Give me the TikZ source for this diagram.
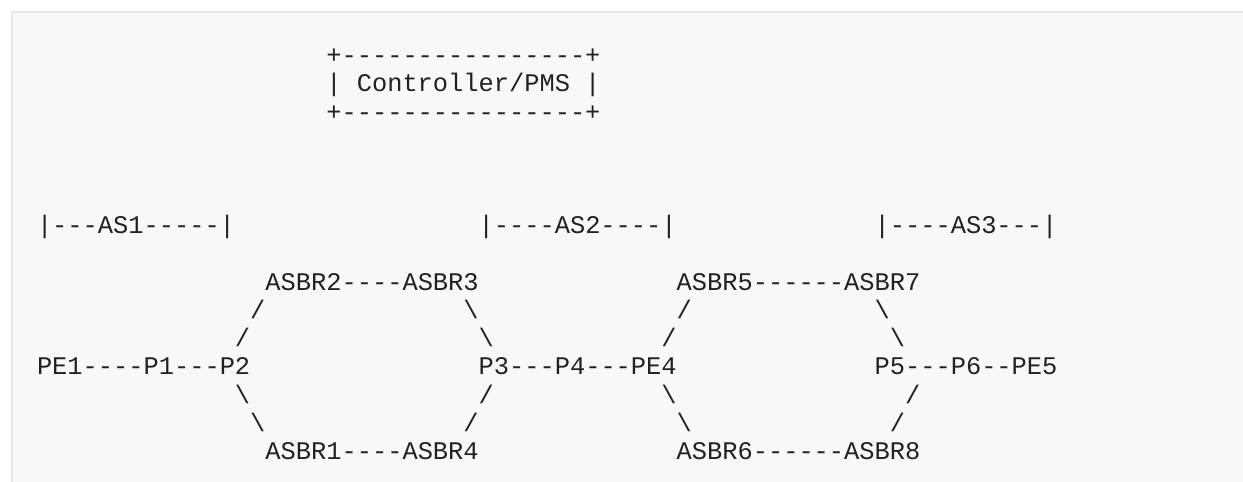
\documentclass[tikz,border=0pt]{standalone}
\usepackage{fontspec}
\newfontfamily\asciifont[Ligatures=TeXOff]{Liberation Mono}
\definecolor{ink}{HTML}{212121}
\definecolor{panel}{HTML}{F8F8F8}
\definecolor{panelrule}{HTML}{E8E8E8}
\newcommand\asciifwd{/}
\newcommand\asciiback{\textbackslash}

\begin{document}
\begin{tikzpicture}[x=1pt,y=-1pt,
    ascii/.style={font={\asciifont\fontsize{25.38pt}{30pt}\selectfont},text=ink,
      inner sep=0pt,outer sep=0pt,text height=18pt,text depth=6pt},
    router/.style={ascii,anchor=base west},
    wire/.style={ascii,anchor=center}]
    \clip (0,0) rectangle (1243,482);
    \path[fill=panel,draw=panelrule,line width=1.5pt] (12,12) rectangle (1260,500);
    \begin{scope}[shift={(37,63.6)},x=15.23pt,y=-28.3pt]
    \node[router] (ctrltop) at (19,0) {+----------------+};
    \node[router] (ctrl) at (19,1) {| Controller/PMS |};
    \node[router] (ctrlbot) at (19,2) {+----------------+};

    \node[router] (as1) at (0,6) {|---AS1-----|};
    \node[router] (as2) at (29,6) {|----AS2----|};
    \node[router] (as3) at (55,6) {|----AS3---|};

    \node[router] (asbr2) at (15,8) {ASBR2};
    \node[router] (asbr3) at (24,8) {ASBR3};
    \node[router] (asbr5) at (42,8) {ASBR5};
    \node[router] (asbr7) at (53,8) {ASBR7};
    \node[router] (pe1) at (0,11) {PE1};
    \node[router] (p1) at (7,11) {P1};
    \node[router] (p2) at (12,11) {P2};
    \node[router] (p3) at (29,11) {P3};
    \node[router] (p4) at (34,11) {P4};
    \node[router] (pe4) at (39,11) {PE4};
    \node[router] (p5) at (55,11) {P5};
    \node[router] (p6) at (60,11) {P6};
    \node[router] (pe5) at (64,11) {PE5};
    \node[router] (asbr1) at (15,14) {ASBR1};
    \node[router] (asbr4) at (24,14) {ASBR4};
    \node[router] (asbr6) at (42,14) {ASBR6};
    \node[router] (asbr8) at (53,14) {ASBR8};

    \foreach \a/\b/\d in {asbr2/asbr3/----,asbr5/asbr7/------,pe1/p1/----,p1/p2/---,
        p3/p4/---,p4/pe4/---,p5/p6/---,p6/pe5/--,asbr1/asbr4/----,asbr6/asbr8/------}
      \path (\a.east) -- node[wire] (\a-\b) {\d} (\b.west);

    \foreach \c/\r/\s [count=\i] in {14/9/\asciifwd,28/9/\asciiback,42/9/\asciifwd,55/9/\asciiback,
        13/10/\asciifwd,29/10/\asciiback,41/10/\asciifwd,56/10/\asciiback,
        13/12/\asciiback,29/12/\asciifwd,41/12/\asciiback,57/12/\asciifwd,
        14/13/\asciiback,28/13/\asciifwd,42/13/\asciiback,56/13/\asciifwd}
      \node[router] (diag\i) at (\c,\r) {\s};
    \end{scope}
\end{tikzpicture}
\end{document}
